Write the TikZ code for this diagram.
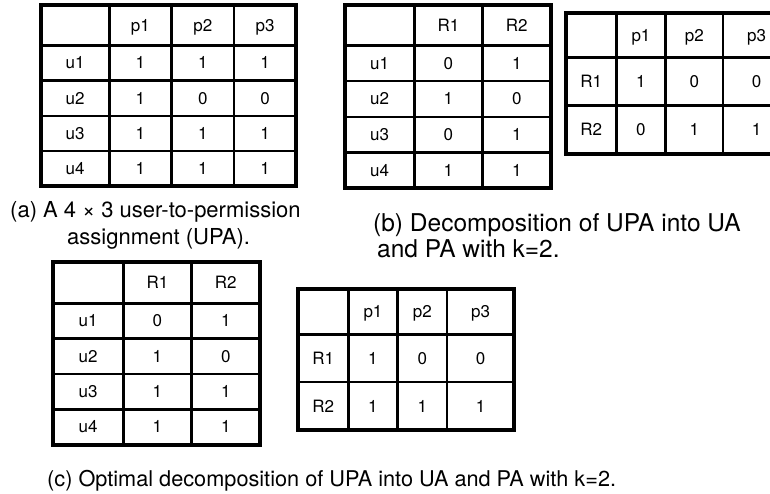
\documentclass[tikz,border=0pt]{standalone}
\usepackage{fontspec}
\setmainfont{TeX Gyre Heros}
\usetikzlibrary{matrix}

\begin{document}
\fontsize{17}{20}\selectfont
\begin{tikzpicture}[x=1pt, y=-1pt,
tablebox/.style={matrix of nodes, nodes in empty cells, inner sep=0pt, outer sep=0pt, anchor=north west,
  nodes={draw=black, line width=1.3pt, inner sep=0pt, outer sep=0pt, minimum height=34pt,
  text height=12pt, text depth=0pt, anchor=center}},
outerframe/.style={draw=black, line width=4pt},
captext/.style={anchor=base west, inner sep=0pt, font=\fontsize{22}{25}\selectfont}]
\useasboundingbox (0,0) rectangle (770,494);
\clip (0,0) rectangle (770,494);

% (a) UPA
\matrix (upa) [tablebox, nodes={minimum width=61pt}, column 1/.style={nodes={minimum width=67pt}},
  row 1/.style={nodes={minimum height=39pt}}] at (41,5) {
   & p1 & p2 & p3 \\
  u1 & 1 & 1 & 1 \\
  u2 & 1 & 0 & 0 \\
  u3 & 1 & 1 & 1 \\
  u4 & 1 & 1 & 1 \\
};
\draw[outerframe] (upa.north west) rectangle (upa.south east);

% (b) UA and PA
\matrix (ua) [tablebox, nodes={minimum width=67pt, minimum height=34.5pt}, column 1/.style={nodes={minimum width=68pt}},
  row 1/.style={nodes={minimum height=39pt}}] at (345,5) {
   & R1 & R2 \\
  u1 & 0 & 1 \\
  u2 & 1 & 0 \\
  u3 & 0 & 1 \\
  u4 & 1 & 1 \\
};
\draw[outerframe] (ua.north west) rectangle (ua.south east);

\matrix (pa) [tablebox, nodes={minimum width=48pt, minimum height=47pt}, column 1/.style={nodes={minimum width=49pt}},
  column 3/.style={nodes={minimum width=56pt}}, column 4/.style={nodes={minimum width=66pt}},
  row 1/.style={nodes={minimum height=43pt}}] at (566,13) {
   & p1 & p2 & p3 \\
  R1 & 1 & 0 & 0 \\
  R2 & 0 & 1 & 1 \\
};
\draw[outerframe] (pa.north west) rectangle (pa.south east);

% (c) optimal UA and PA
\matrix (uaopt) [tablebox, nodes={minimum width=67pt}, column 1/.style={nodes={minimum width=69pt}},
  row 1/.style={nodes={minimum height=40pt}}] at (53,262) {
   & R1 & R2 \\
  u1 & 0 & 1 \\
  u2 & 1 & 0 \\
  u3 & 1 & 1 \\
  u4 & 1 & 1 \\
};
\draw[outerframe] (uaopt.north west) rectangle (uaopt.south east);

\matrix (paopt) [tablebox, nodes={minimum width=48pt, minimum height=46.5pt}, column 1/.style={nodes={minimum width=49pt}},
  column 4/.style={nodes={minimum width=66pt}}, row 1/.style={nodes={minimum height=44pt}}] at (298,289) {
   & p1 & p2 & p3 \\
  R1 & 1 & 0 & 0 \\
  R2 & 1 & 1 & 1 \\
};
\draw[outerframe] (paopt.north west) rectangle (paopt.south east);

% captions
\node[captext] (capa) at (10,218) {(a) A 4 × 3 user-to-permission};
\node[captext] (capa2) at (67,244) {assignment (UPA).};
\node[captext, font=\fontsize{24.5}{27}\selectfont] (capb) at (373,231) {(b) Decomposition of UPA into UA};
\node[captext, font=\fontsize{24.5}{27}\selectfont] (capb2) at (377,258) {and PA with k=2.};
\node[captext, font=\fontsize{21.7}{25}\selectfont] (capc) at (47,486) {(c) Optimal decomposition of UPA into UA and PA with k=2.};
\end{tikzpicture}
\end{document}
